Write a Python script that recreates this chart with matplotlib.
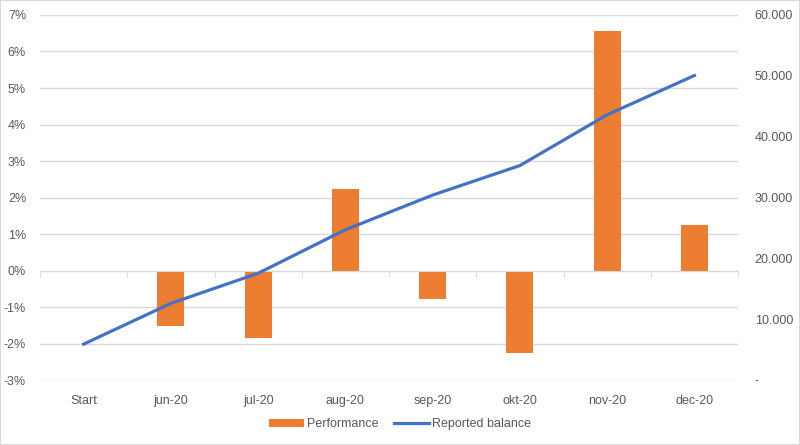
import matplotlib.pyplot as plt
import matplotlib.ticker as mticker
import numpy as np

# data
months = ["Start", "jun-20", "jul-20", "aug-20", "sep-20", "okt-20", "nov-20", "dec-20"]
performance = [np.nan, -1.52, -1.86, 2.22, -0.78, -2.27, 6.56, 1.26]  # percent
balance = [5900, 12600, 17550, 24700, 30400, 35250, 43600, 50050]

grey_txt = "#595959"
grid_col = "#D9D9D9"
plt.rcParams["font.family"] = ["Liberation Sans", "DejaVu Sans"]

fig = plt.figure(figsize=(8, 4.45), dpi=100)
ax = fig.add_axes([0.05, 0.146, 0.8725, 0.8203])
x = np.arange(len(months))

# bars for monthly performance (left axis)
ax.bar(x, performance, width=0.31, color="#ED7D31", label="Performance", zorder=2)
ax.set_ylim(-3, 7)
ax.set_xlim(-0.5, len(months) - 0.5)
ax.set_yticks(np.arange(-3, 8, 1))
ax.yaxis.set_major_formatter(mticker.FuncFormatter(lambda v, p: f"{v:.0f}%"))
ax.grid(axis="y", color=grid_col, linewidth=1, zorder=0)
ax.set_axisbelow(True)

# x axis sits on the 0% line, like Excel
for s in ["top", "right", "left"]:
    ax.spines[s].set_visible(False)
ax.spines["bottom"].set_position(("data", 0))
ax.spines["bottom"].set_color(grid_col)
ax.set_xticks(np.arange(-0.5, len(months), 1), minor=True)
ax.set_xticks(x)
ax.set_xticklabels([])
ax.tick_params(axis="x", which="major", length=0)
ax.tick_params(axis="x", which="minor", length=4, color=grid_col, direction="out")
ax.tick_params(axis="y", length=0, colors=grey_txt, labelsize=9, pad=10)

# category labels under the plot area
for i, m in enumerate(months):
    ax.text(i, -0.04, m, transform=ax.get_xaxis_transform(), ha="center", va="top",
            color=grey_txt, fontsize=9)

# balance line (right axis)
ax2 = ax.twinx()
ax2.plot(x, balance, color="#4472C4", linewidth=2.3, label="Reported balance", zorder=3)
ax2.set_ylim(0, 60000)
ax2.set_yticks(np.arange(0, 60001, 10000))
ax2.yaxis.set_major_formatter(mticker.FuncFormatter(
    lambda v, p: "-" if v == 0 else f"{v:,.0f}".replace(",", ".")))
for s in ax2.spines.values():
    s.set_visible(False)
ax2.tick_params(axis="y", length=0, colors=grey_txt, labelsize=9, pad=12)

h1, l1 = ax.get_legend_handles_labels()
h2, l2 = ax2.get_legend_handles_labels()
fig.legend(h1 + h2, l1 + l2, loc="center", bbox_to_anchor=(0.5, 0.047), ncol=2,
           frameon=False, fontsize=9, labelcolor=grey_txt, handlelength=2.8,
           handleheight=0.6, columnspacing=1.2, handletextpad=0.3)

# light frame around the chart
fig.patches.append(plt.Rectangle((0, 0), 1, 1, transform=fig.transFigure, fill=False,
                                 edgecolor=grid_col, linewidth=1.5))
fig.savefig("out.png", dpi=100)
